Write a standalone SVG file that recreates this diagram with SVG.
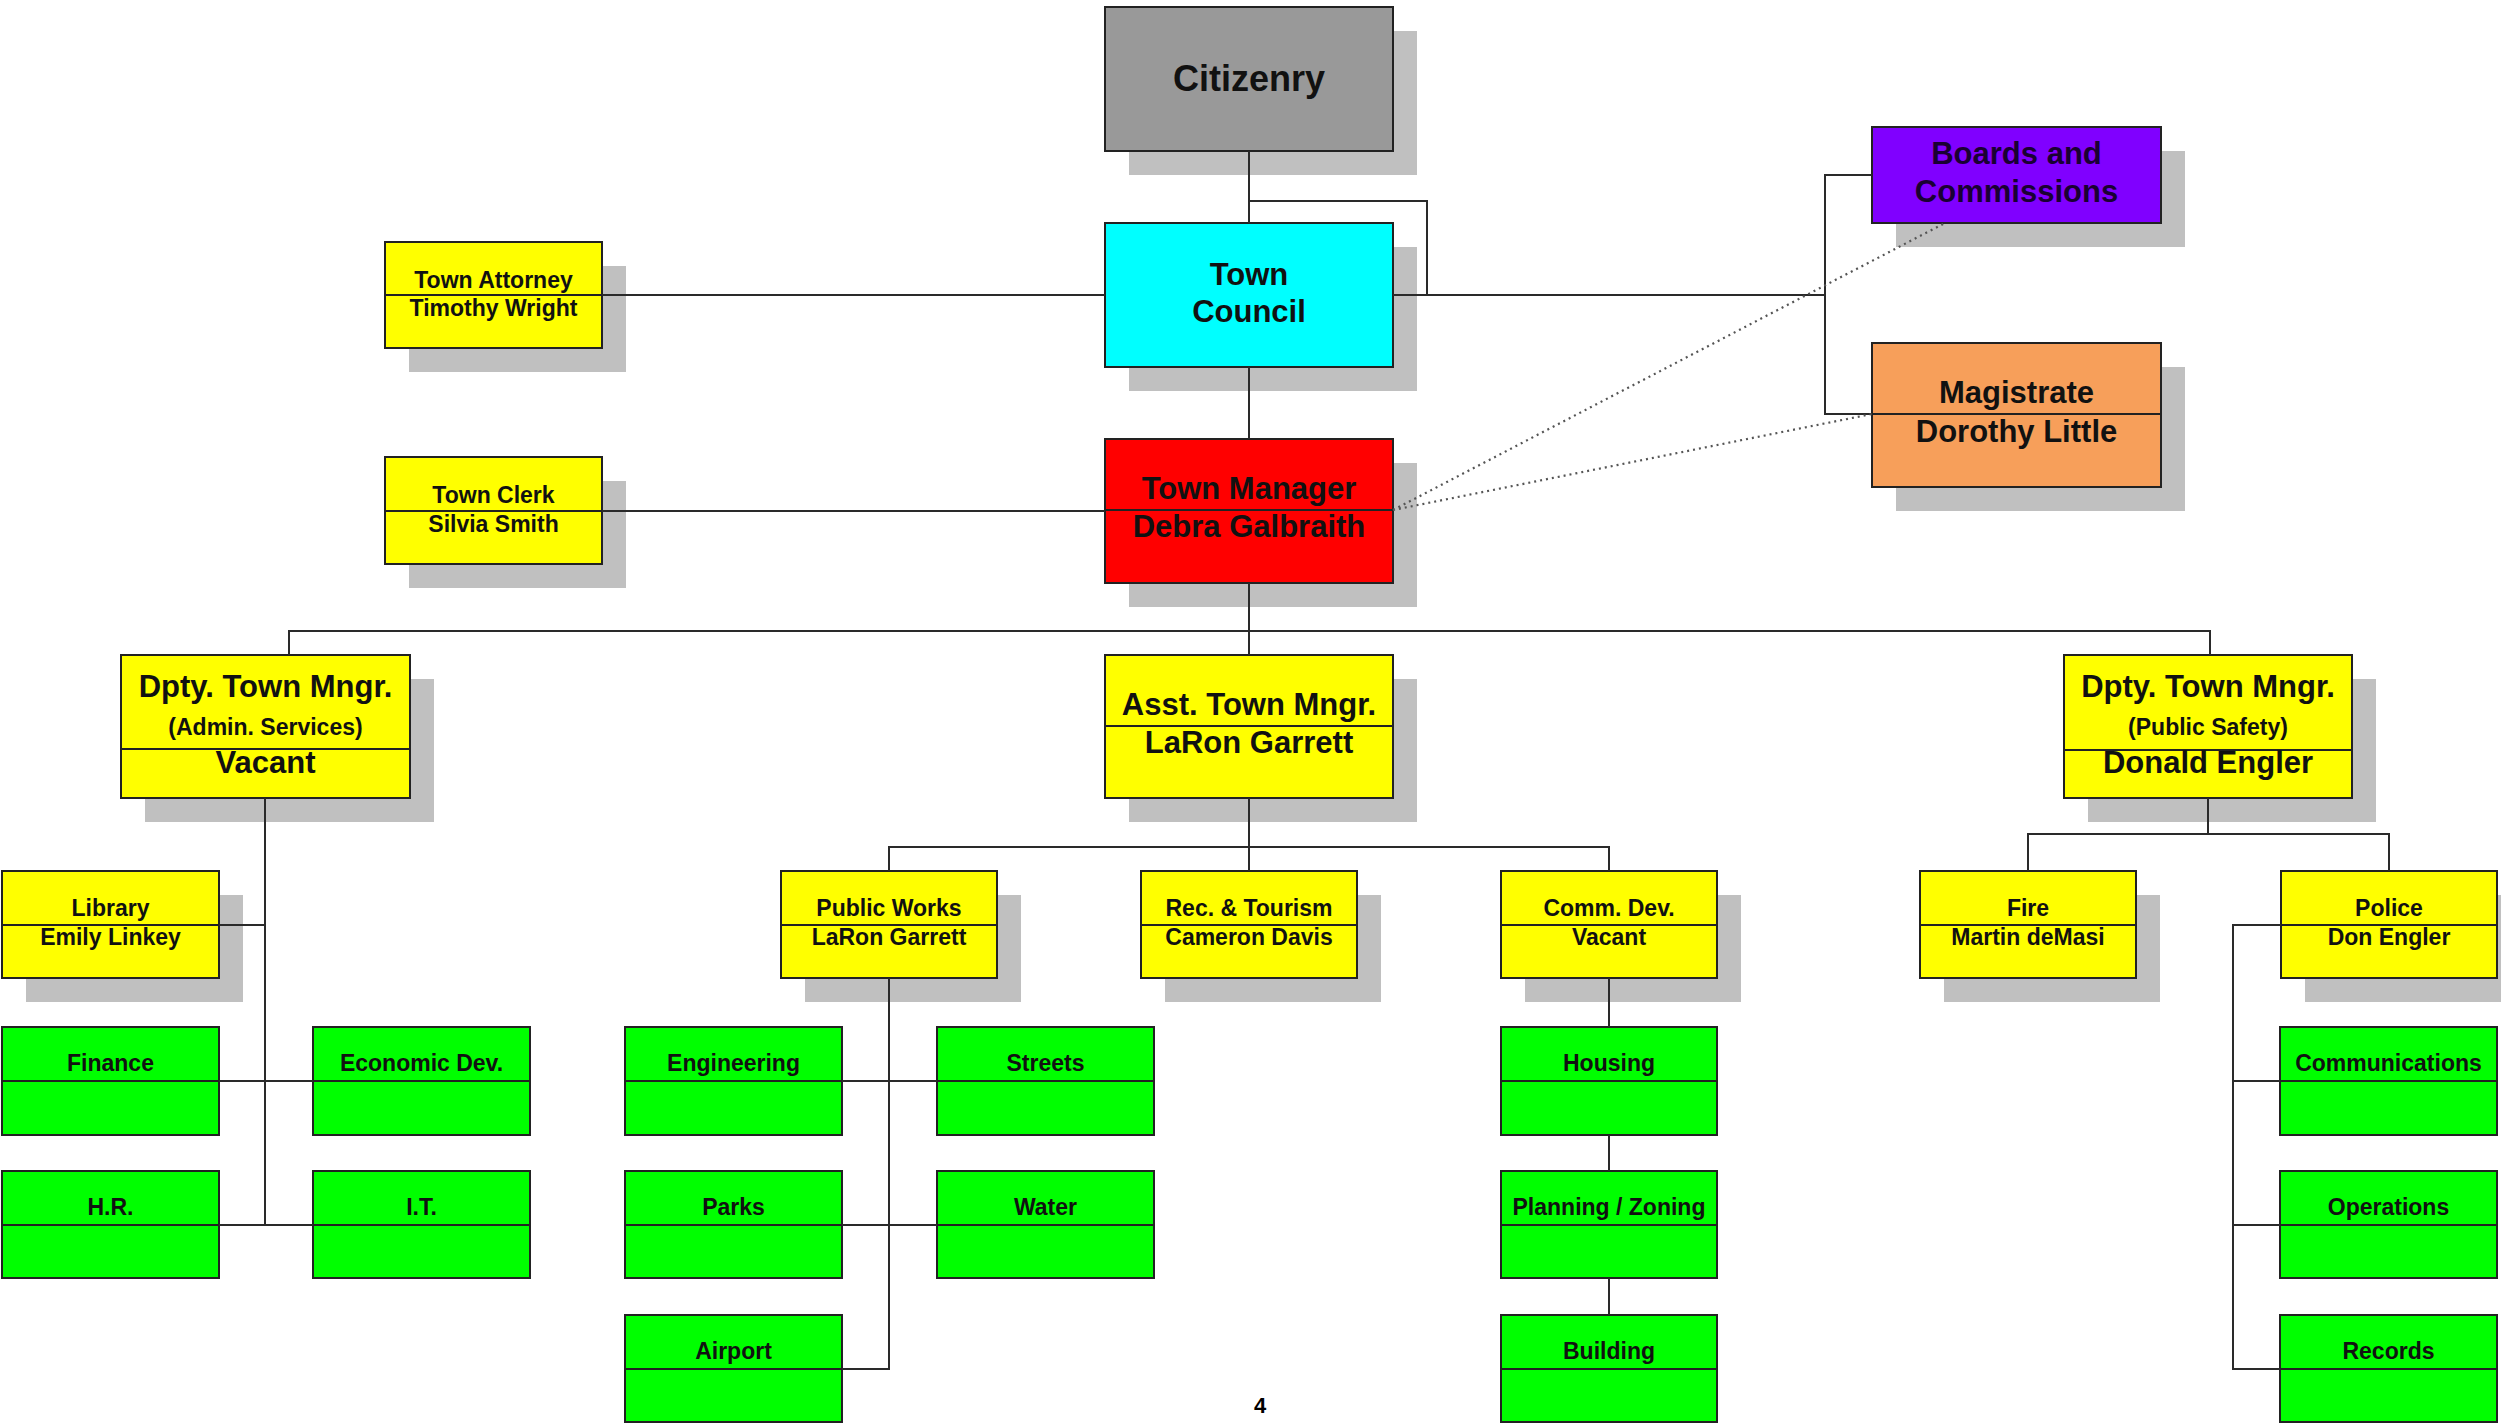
<svg xmlns="http://www.w3.org/2000/svg" width="2501" height="1424" viewBox="0 0 2501 1424">
<style>
.sh{fill:#c0c0c0}
.bx{stroke:#222;stroke-width:2}
.dv{stroke:#222;stroke-width:2}
.g{fill:#00ff00}
.y{fill:#ffff00}
text{font-family:"Liberation Sans",Arial,sans-serif;font-weight:bold;text-anchor:middle;fill:#111}
.L{font-size:31px}
.S{font-size:23px}
.c{stroke:#2a2a2a;stroke-width:2;fill:none}
.d{stroke:#555;stroke-width:2.2;fill:none;stroke-dasharray:2 4}
</style>
<rect width="2501" height="1424" fill="#ffffff"/>

<g id="citizenry">
<rect class="sh" x="1129" y="31" width="288" height="144"/>
<rect class="bx" x="1105" y="7" width="288" height="144" fill="#999999"/>
<text x="1249" y="91" style="font-size:36px">Citizenry</text>
</g>

<g id="town-council">
<rect class="sh" x="1129" y="247" width="288" height="144"/>
<rect class="bx" x="1105" y="223" width="288" height="144" fill="#00ffff"/>
<text class="L" x="1249" y="285">Town</text>
<text class="L" x="1249" y="322">Council</text>
</g>

<g id="town-manager">
<rect class="sh" x="1129" y="463" width="288" height="144"/>
<rect class="bx" x="1105" y="439" width="288" height="144" fill="#ff0000"/>
<line class="dv" x1="1105" y1="510" x2="1393" y2="510"/>
<text class="L" x="1249" y="499">Town Manager</text>
<text class="L" x="1249" y="537">Debra Galbraith</text>
</g>

<g id="town-attorney">
<rect class="sh" x="409" y="266" width="217" height="106"/>
<rect class="bx y" x="385" y="242" width="217" height="106"/>
<line class="dv" x1="385" y1="295" x2="602" y2="295"/>
<text class="S" x="493.5" y="288">Town Attorney</text>
<text class="S" x="493.5" y="316">Timothy Wright</text>
</g>

<g id="town-clerk">
<rect class="sh" x="409" y="481" width="217" height="107"/>
<rect class="bx y" x="385" y="457" width="217" height="107"/>
<line class="dv" x1="385" y1="511" x2="602" y2="511"/>
<text class="S" x="493.5" y="503">Town Clerk</text>
<text class="S" x="493.5" y="532">Silvia Smith</text>
</g>

<g id="boards">
<rect class="sh" x="1896" y="151" width="289" height="96"/>
<rect class="bx" x="1872" y="127" width="289" height="96" fill="#8000ff"/>
<text class="L" x="2016.5" y="164" style="fill:#1a0033">Boards and</text>
<text class="L" x="2016.5" y="202" style="fill:#1a0033">Commissions</text>
</g>

<g id="magistrate">
<rect class="sh" x="1896" y="367" width="289" height="144"/>
<rect class="bx" x="1872" y="343" width="289" height="144" fill="#f79f5a"/>
<line class="dv" x1="1872" y1="414" x2="2161" y2="414"/>
<text class="L" x="2016.5" y="403">Magistrate</text>
<text class="L" x="2016.5" y="442">Dorothy Little</text>
</g>

<g id="dpty-admin">
<rect class="sh" x="145" y="679" width="289" height="143"/>
<rect class="bx y" x="121" y="655" width="289" height="143"/>
<line class="dv" x1="121" y1="749" x2="410" y2="749"/>
<text class="L" x="265.5" y="697">Dpty. Town Mngr.</text>
<text class="S" x="265.5" y="735">(Admin. Services)</text>
<text class="L" x="265.5" y="773">Vacant</text>
</g>

<g id="asst-mngr">
<rect class="sh" x="1129" y="679" width="288" height="143"/>
<rect class="bx y" x="1105" y="655" width="288" height="143"/>
<line class="dv" x1="1105" y1="726" x2="1393" y2="726"/>
<text class="L" x="1249" y="715">Asst. Town Mngr.</text>
<text class="L" x="1249" y="753">LaRon Garrett</text>
</g>

<g id="dpty-safety">
<rect class="sh" x="2088" y="679" width="288" height="143"/>
<rect class="bx y" x="2064" y="655" width="288" height="143"/>
<line class="dv" x1="2064" y1="750" x2="2352" y2="750"/>
<text class="L" x="2208" y="697">Dpty. Town Mngr.</text>
<text class="S" x="2208" y="735">(Public Safety)</text>
<text class="L" x="2208" y="773">Donald Engler</text>
</g>

<g id="library">
<rect class="sh" x="26" y="895" width="217" height="107"/>
<rect class="bx y" x="2" y="871" width="217" height="107"/>
<line class="dv" x1="2" y1="925" x2="219" y2="925"/>
<text class="S" x="110.5" y="916">Library</text>
<text class="S" x="110.5" y="945">Emily Linkey</text>
</g>

<g id="public-works">
<rect class="sh" x="805" y="895" width="216" height="107"/>
<rect class="bx y" x="781" y="871" width="216" height="107"/>
<line class="dv" x1="781" y1="925" x2="997" y2="925"/>
<text class="S" x="889" y="916">Public Works</text>
<text class="S" x="889" y="945">LaRon Garrett</text>
</g>

<g id="rec-tourism">
<rect class="sh" x="1165" y="895" width="216" height="107"/>
<rect class="bx y" x="1141" y="871" width="216" height="107"/>
<line class="dv" x1="1141" y1="925" x2="1357" y2="925"/>
<text class="S" x="1249" y="916">Rec. &amp; Tourism</text>
<text class="S" x="1249" y="945">Cameron Davis</text>
</g>

<g id="comm-dev">
<rect class="sh" x="1525" y="895" width="216" height="107"/>
<rect class="bx y" x="1501" y="871" width="216" height="107"/>
<line class="dv" x1="1501" y1="925" x2="1717" y2="925"/>
<text class="S" x="1609" y="916">Comm. Dev.</text>
<text class="S" x="1609" y="945">Vacant</text>
</g>

<g id="fire">
<rect class="sh" x="1944" y="895" width="216" height="107"/>
<rect class="bx y" x="1920" y="871" width="216" height="107"/>
<line class="dv" x1="1920" y1="925" x2="2136" y2="925"/>
<text class="S" x="2028" y="916">Fire</text>
<text class="S" x="2028" y="945">Martin deMasi</text>
</g>

<g id="police">
<rect class="sh" x="2305" y="895" width="216" height="107"/>
<rect class="bx y" x="2281" y="871" width="216" height="107"/>
<line class="dv" x1="2281" y1="925" x2="2497" y2="925"/>
<text class="S" x="2389" y="916">Police</text>
<text class="S" x="2389" y="945">Don Engler</text>
</g>

<g id="finance"><rect class="bx g" x="2" y="1027" width="217" height="108"/><line class="dv" x1="2" y1="1081" x2="219" y2="1081"/><text class="S" x="110.5" y="1071">Finance</text></g>
<g id="economic-dev"><rect class="bx g" x="313" y="1027" width="217" height="108"/><line class="dv" x1="313" y1="1081" x2="530" y2="1081"/><text class="S" x="421.5" y="1071">Economic Dev.</text></g>
<g id="hr"><rect class="bx g" x="2" y="1171" width="217" height="107"/><line class="dv" x1="2" y1="1225" x2="219" y2="1225"/><text class="S" x="110.5" y="1215">H.R.</text></g>
<g id="it"><rect class="bx g" x="313" y="1171" width="217" height="107"/><line class="dv" x1="313" y1="1225" x2="530" y2="1225"/><text class="S" x="421.5" y="1215">I.T.</text></g>

<g id="engineering"><rect class="bx g" x="625" y="1027" width="217" height="108"/><line class="dv" x1="625" y1="1081" x2="842" y2="1081"/><text class="S" x="733.5" y="1071">Engineering</text></g>
<g id="streets"><rect class="bx g" x="937" y="1027" width="217" height="108"/><line class="dv" x1="937" y1="1081" x2="1154" y2="1081"/><text class="S" x="1045.5" y="1071">Streets</text></g>
<g id="parks"><rect class="bx g" x="625" y="1171" width="217" height="107"/><line class="dv" x1="625" y1="1225" x2="842" y2="1225"/><text class="S" x="733.5" y="1215">Parks</text></g>
<g id="water"><rect class="bx g" x="937" y="1171" width="217" height="107"/><line class="dv" x1="937" y1="1225" x2="1154" y2="1225"/><text class="S" x="1045.5" y="1215">Water</text></g>
<g id="airport"><rect class="bx g" x="625" y="1315" width="217" height="107"/><line class="dv" x1="625" y1="1369" x2="842" y2="1369"/><text class="S" x="733.5" y="1359">Airport</text></g>

<g id="housing"><rect class="bx g" x="1501" y="1027" width="216" height="108"/><line class="dv" x1="1501" y1="1081" x2="1717" y2="1081"/><text class="S" x="1609" y="1071">Housing</text></g>
<g id="planning"><rect class="bx g" x="1501" y="1171" width="216" height="107"/><line class="dv" x1="1501" y1="1225" x2="1717" y2="1225"/><text class="S" x="1609" y="1215">Planning / Zoning</text></g>
<g id="building"><rect class="bx g" x="1501" y="1315" width="216" height="107"/><line class="dv" x1="1501" y1="1369" x2="1717" y2="1369"/><text class="S" x="1609" y="1359">Building</text></g>

<g id="communications"><rect class="bx g" x="2280" y="1027" width="217" height="108"/><line class="dv" x1="2280" y1="1081" x2="2497" y2="1081"/><text class="S" x="2388.5" y="1071">Communications</text></g>
<g id="operations"><rect class="bx g" x="2280" y="1171" width="217" height="107"/><line class="dv" x1="2280" y1="1225" x2="2497" y2="1225"/><text class="S" x="2388.5" y="1215">Operations</text></g>
<g id="records"><rect class="bx g" x="2280" y="1315" width="217" height="107"/><line class="dv" x1="2280" y1="1369" x2="2497" y2="1369"/><text class="S" x="2388.5" y="1359">Records</text></g>

<g id="connectors">
<path class="c" d="M1249 151V223M1249 201H1427V295M1393 295H1825M1872 175H1825V414H1872"/>
<path class="c" d="M602 295H1105M1249 367V439M602 511H1105M1249 583V655"/>
<path class="c" d="M289 655V631H2210V655"/>
<path class="c" d="M265 798V1225M219 925H265M219 1081H313M219 1225H313"/>
<path class="c" d="M1249 798V871M889 871V847H1609V871"/>
<path class="c" d="M889 978V1369H842M842 1081H937M842 1225H937"/>
<path class="c" d="M1609 978V1027M1609 1135V1171M1609 1278V1315"/>
<path class="c" d="M2208 798V834M2028 871V834H2389V871"/>
<path class="c" d="M2281 925H2233V1369H2280M2233 1081H2280M2233 1225H2280"/>
<path class="d" d="M1393 510L1945 223M1393 510L1872 414"/>
</g>

<text x="1260" y="1413" style="font-size:22px;fill:#000">4</text>
</svg>
